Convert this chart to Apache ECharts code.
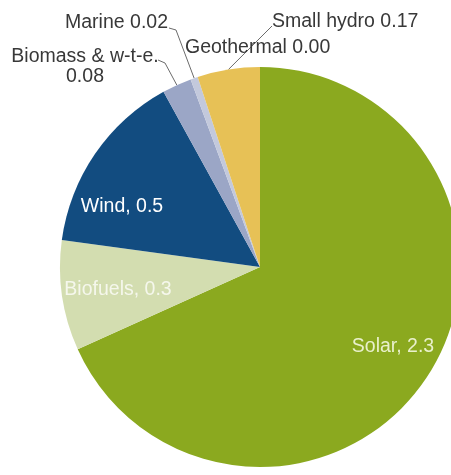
<!DOCTYPE html>
<html>
<head>
<meta charset="utf-8">
<script src="https://cdn.jsdelivr.net/npm/echarts@6/dist/echarts.min.js"></script>
<style>
  html, body { margin: 0; padding: 0; background: #ffffff; }
  #chart { width: 451px; height: 475px; }
</style>
</head>
<body>
<div id="chart"></div>
<script>
// Renewable capacity shares by technology
const categories = ['Solar', 'Biofuels', 'Wind', 'Biomass & w-t-e.', 'Marine', 'Geothermal', 'Small hydro'];
const values = [2.3, 0.3, 0.5, 0.08, 0.02, 0.00, 0.17];
const decimals = [1, 1, 1, 2, 2, 2, 2];
const sliceColors = ['#8ba91f', '#d3ddb0', '#124c80', '#9ba6c6', '#c3c9dc', '#e6c25a', '#e7c156'];

// label placement: [x, y, align]
const labelSpots = {
  0: [393, 347, 'center'],
  1: [118, 290, 'center'],
  2: [122, 207, 'center'],
  3: [85, 67, 'center'],
  4: [168, 23, 'right'],
  5: [185, 48, 'left'],
  6: [272, 22, 'left']
};

const insideColors = { 0: '#e9f0cc', 1: '#f5f7ec', 2: '#ffffff' };

const chart = echarts.init(document.getElementById('chart'), null, { renderer: 'canvas' });

const fmtValue = (i) => values[i].toFixed(decimals[i]);

const data = categories.map((name, i) => {
  const inside = i < 3;
  let formatter;
  if (inside) {
    formatter = (p) => p.name + ', ' + fmtValue(p.dataIndex);
  } else if (i === 3) {
    formatter = (p) => p.name + '\n' + fmtValue(p.dataIndex);
  } else {
    formatter = (p) => p.name + ' ' + fmtValue(p.dataIndex);
  }
  return {
    name: name,
    value: values[i],
    itemStyle: { color: sliceColors[i] },
    label: {
      position: inside ? 'inside' : 'outside',
      color: inside ? insideColors[i] : '#383838',
      formatter: formatter
    },
    labelLine: { show: !inside && i !== 5 }
  };
});

chart.setOption({
  animation: false,
  series: [{
    type: 'pie',
    center: [260, 267],
    radius: 200,
    startAngle: 90,
    clockwise: true,
    avoidLabelOverlap: false,
    minShowLabelAngle: 0,
    data: data,
    label: {
      fontFamily: 'Liberation Sans, Arial, sans-serif',
      fontSize: 19.5,
      lineHeight: 20
    },
    labelLine: {
      length: 10,
      length2: 10,
      lineStyle: { color: '#6b6b6b', width: 1 }
    },
    labelLayout: function (params) {
      const spot = labelSpots[params.dataIndex];
      const out = { x: spot[0], y: spot[1], align: spot[2], verticalAlign: 'middle' };
      const pts = params.labelLinePoints;
      if (pts && pts.length) {
        const edge = pts[0];
        const X = spot[0], Y = spot[1];
        if (params.dataIndex === 4) {
          out.labelLinePoints = [edge, [X + 8, Y + 7], [X + 1, Y + 5]];
        } else if (params.dataIndex === 3) {
          out.labelLinePoints = [edge, [X + 80, Y - 4], [X + 73, Y - 7]];
        } else if (params.dataIndex === 6) {
          out.labelLinePoints = [edge, [X - 2, Y + 6], [X, Y + 4]];
        }
      }
      return out;
    }
  }]
});
</script>
</body>
</html>
